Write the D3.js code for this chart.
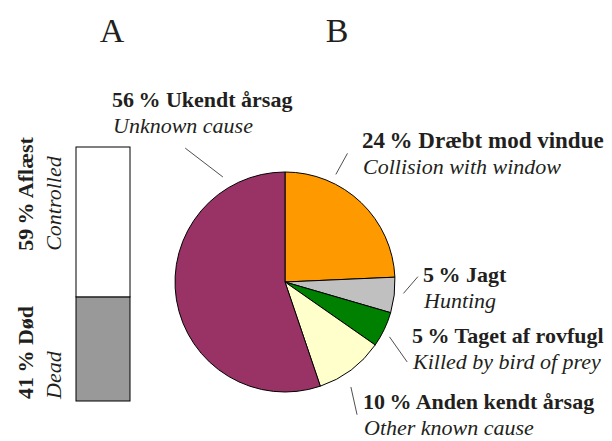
<!DOCTYPE html>
<html>
<head>
<meta charset="utf-8">
<script src="https://cdn.jsdelivr.net/npm/d3@7"></script>
<style>
  html, body { margin: 0; padding: 0; background: #fff; }
  svg text { font-family: "Liberation Serif", "Times New Roman", serif; fill: #231f20; }
</style>
</head>
<body>
<div id="plot"></div>
<script>
// panel A: status of recovered birds (share in %)
var statusKeys = ["dead", "controlled"];
var statusValues = [41, 59];
var statusDa = ["Død", "Aflæst"];
var statusEn = ["Dead", "Controlled"];
var statusColors = ["#999999", "#ffffff"];

// panel B: causes of death (slice shares, labels as printed)
var causeShares = [24.3, 5.2, 5.2, 10.1, 55.2];
var causePct = ["24", "5", "5", "10", "56"];
var causeDa = ["Dræbt mod vindue", "Jagt", "Taget af rovfugl", "Anden kendt årsag", "Ukendt årsag"];
var causeEn = ["Collision with window", "Hunting", "Killed by bird of prey", "Other known cause", "Unknown cause"];
var causeColors = ["#ff9900", "#c0c0c0", "#008000", "#ffffcc", "#993366"];

var W = 612, H = 441;
var svg = d3.select("#plot")
            .append("svg")
            .attr("width", W)
            .attr("height", H);

// panel letters
svg.append("text").attr("x", 112).attr("y", 42)
    .attr("text-anchor", "middle").style("font-size", "34px").text("A");
svg.append("text").attr("x", 337).attr("y", 42)
    .attr("text-anchor", "middle").style("font-size", "34px").text("B");

// ---- A: stacked bar
var yBar = d3.scaleLinear().domain([0, 100]).range([401, 147]);
var barX = 76, barW = 54;
var stackData = [];
var acc = 0;
statusValues.forEach(function(v, i){
    stackData.push({i: i, y0: acc, y1: acc + v});
    acc += v;
});

var gA = svg.append("g");
gA.selectAll(".seg")
    .data(stackData)
    .enter().append("rect")
    .attr("class", function(d){ return "seg seg_" + statusKeys[d.i]; })
    .attr("x", barX)
    .attr("y", function(d){ return yBar(d.y1); })
    .attr("width", barW)
    .attr("height", function(d){ return yBar(d.y0) - yBar(d.y1); })
    .style("fill", function(d){ return statusColors[d.i]; })
    .style("stroke", "#000")
    .style("stroke-width", 1);

// rotated labels (text runs bottom to top), start offset from segment bottom
var startShiftA = [2, 46];
var lblA = gA.selectAll(".lblA")
    .data(stackData)
    .enter().append("g")
    .attr("class", "lblA")
    .attr("transform", function(d){
        return "translate(0," + (yBar(d.y0) - startShiftA[d.i]) + ") rotate(-90)";
    });
lblA.append("text")
    .attr("x", 0).attr("y", 33)
    .style("font-size", "22px").style("font-weight", "bold")
    .text(function(d){ return statusValues[d.i] + "\u2009% " + statusDa[d.i]; });
lblA.append("text")
    .attr("x", 0).attr("y", 61)
    .style("font-size", "22px").style("font-style", "italic")
    .text(function(d){ return statusEn[d.i]; });

// ---- B: pie
var cx = 285, cy = 282, R = 110;
var pie = d3.pie().sort(null).value(function(d){ return d; });
var arc = d3.arc().innerRadius(0).outerRadius(R);
var arcs = pie(causeShares);

var gB = svg.append("g").attr("transform", "translate(" + cx + "," + cy + ")");
gB.selectAll(".slice")
    .data(arcs)
    .enter().append("path")
    .attr("class", "slice")
    .attr("d", arc)
    .style("fill", function(d, i){ return causeColors[i]; })
    .style("stroke", "#000")
    .style("stroke-width", 1);

// label placement: leader line (angle in deg, radius) from inner to outer end, text anchor point
var labelLayout = [
    {a0: 25.3, r0: 119, a1: 25.9, r1: 143, tx: 362, ty: 148, fs: 23},
    {a0: 95.5, r0: 119, a1: 87.7, r1: 133, tx: 423, ty: 282, fs: 22},
    {a0: 117.7, r0: 118, a1: 123.2, r1: 146, tx: 412, ty: 343, fs: 22},
    {a0: 147.9, r0: 124, a1: 151.5, r1: 151, tx: 363, ty: 409, fs: 22},
    {a0: -30.6, r0: 122, a1: -36.7, r1: 167, tx: 112, ty: 107, fs: 22}
];
var rad = Math.PI / 180;

svg.selectAll(".leader")
    .data(labelLayout)
    .enter().append("line")
    .attr("class", "leader")
    .attr("x1", function(d){ return cx + d3.pointRadial(d.a0 * rad, d.r0)[0]; })
    .attr("y1", function(d){ return cy + d3.pointRadial(d.a0 * rad, d.r0)[1]; })
    .attr("x2", function(d){ return cx + d3.pointRadial(d.a1 * rad, d.r1)[0]; })
    .attr("y2", function(d){ return cy + d3.pointRadial(d.a1 * rad, d.r1)[1]; })
    .style("stroke", "#231f20")
    .style("stroke-width", 0.8);

var lblB = svg.selectAll(".lblB")
    .data(labelLayout)
    .enter().append("g")
    .attr("class", "lblB")
    .attr("transform", function(d){ return "translate(" + d.tx + "," + d.ty + ")"; });
lblB.append("text")
    .attr("x", 0).attr("y", 0)
    .style("font-size", function(d){ return d.fs + "px"; })
    .style("font-weight", "bold")
    .text(function(d, i){ return causePct[i] + "\u2009% " + causeDa[i]; });
lblB.append("text")
    .attr("x", 1).attr("y", 26)
    .style("font-size", "22px").style("font-style", "italic")
    .text(function(d, i){ return causeEn[i]; });
</script>
</body>
</html>
